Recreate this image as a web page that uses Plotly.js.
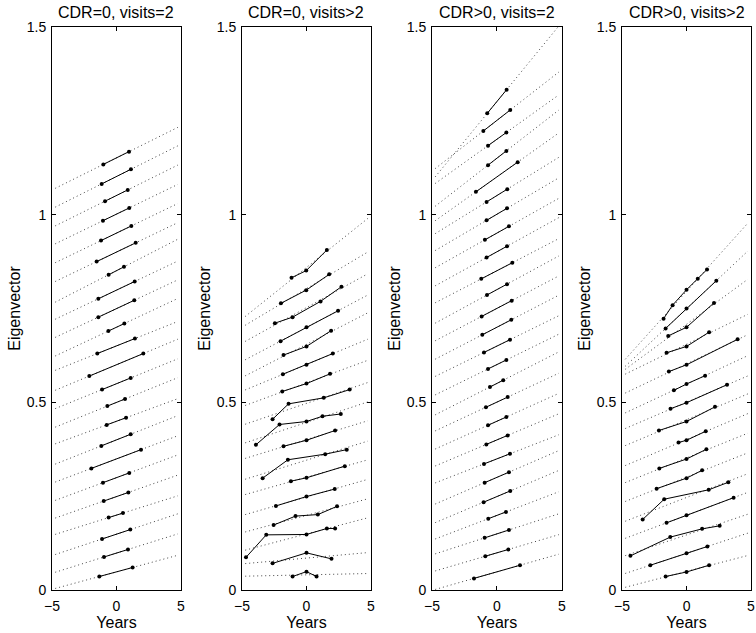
<!DOCTYPE html>
<html>
<head>
<meta charset="utf-8">
<script src="https://cdn.plot.ly/plotly-3.0.1.min.js"></script>
<style>html,body{margin:0;padding:0;background:#fff;}#chart{width:756px;height:633px;}</style>
</head>
<body>
<div id="chart"></div>
<script>
// Panel titles
var panelTitles = ['CDR=0, visits=2', 'CDR=0, visits>2', 'CDR>0, visits=2', 'CDR>0, visits>2'];
var xTickVals = [-5, 0, 5];
var yTickVals = [0, 0.5, 1, 1.5];
var yTickText = ['0', '0.5', '1', '1.5'];

// Panel 1: CDR=0, visits=2 (years, eigenvector) per subject
var p1X = [
[-1.02,0.97],[-1.15,1.12],[-0.89,0.87],[-1.05,0.99],[-1.20,1.15],[-1.54,1.49],
[-0.61,0.58],[-1.41,1.41],[-1.41,1.38],[-0.63,0.61],[-1.49,1.43],[-2.11,2.08],
[-1.12,1.10],[-0.71,0.66],[-0.76,0.74],[-1.18,1.10],[-1.95,1.90],[-1.05,0.99],
[-0.99,0.92],[-0.61,0.50],[-1.12,1.07],[-0.97,0.89],[-1.33,1.25]];
var p1Y = [
[1.134,1.168],[1.082,1.121],[1.036,1.066],[0.984,1.018],[0.931,0.970],[0.875,0.925],
[0.840,0.861],[0.776,0.822],[0.727,0.772],[0.690,0.710],[0.630,0.670],[0.570,0.630],
[0.534,0.565],[0.490,0.509],[0.440,0.459],[0.384,0.415],[0.324,0.374],[0.286,0.312],
[0.237,0.260],[0.193,0.205],[0.136,0.161],[0.088,0.108],[0.036,0.060]];

// Panel 2: CDR=0, visits>2
var p2X = [
[-1.16,-0.02,1.58],[-1.98,-0.02,1.76],[-2.45,-1.08,1.09,2.71],[-2.01,0,2.45],
[-1.78,0,1.91],[-1.83,0,2.04],[-1.88,0,1.83],[-2.63,-1.39,1.34,3.35],
[-3.92,-2.09,0,1.24,2.66],[-1.78,0,2.22],[-3.40,-1.44,1.45,3.12],[-1.21,0,2.97],
[-2.37,0,2.19],[-2.55,-0.85,0.88,2.37],[-4.69,-3.12,0,1.58,2.22],[-2.63,0,1.94],
[-1.08,0,0.78]];
var p2Y = [
[0.832,0.851,0.906],[0.764,0.799,0.841],[0.711,0.727,0.769,0.808],[0.663,0.700,0.744],
[0.626,0.649,0.691],[0.575,0.600,0.630],[0.529,0.550,0.576],[0.455,0.496,0.512,0.534],
[0.387,0.441,0.449,0.463,0.469],[0.383,0.399,0.425],[0.298,0.347,0.362,0.374],[0.290,0.299,0.330],
[0.224,0.249,0.269],[0.173,0.197,0.201,0.223],[0.087,0.147,0.148,0.164,0.164],[0.071,0.099,0.083],
[0.036,0.049,0.036]];

// Panel 3: CDR>0, visits=2
var p3X = [
[-0.75,0.74],[-1.05,1.02],[-0.69,0.72],[-0.69,0.72],[-1.62,1.59],[-0.80,0.79],
[-0.80,0.77],[-0.93,0.92],[-0.80,0.77],[-1.21,1.18],[-0.77,0.77],[-1.18,1.13],
[-1.13,1.10],[-1.00,1.00],[-0.69,0.72],[-0.54,0.48],[-0.85,0.82],[-0.69,0.72],
[-0.82,0.82],[-1.00,1.00],[-0.95,0.92],[-1.03,1.02],[-0.67,0.69],[-0.95,0.92],
[-0.90,0.87],[-1.77,1.77]];
var p3Y = [
[1.270,1.333],[1.223,1.279],[1.184,1.219],[1.132,1.170],[1.061,1.140],[1.034,1.068],
[0.985,1.017],[0.933,0.969],[0.886,0.916],[0.829,0.872],[0.786,0.815],[0.729,0.771],
[0.680,0.720],[0.633,0.667],[0.589,0.613],[0.541,0.559],[0.487,0.514],[0.439,0.461],
[0.388,0.412],[0.336,0.363],[0.286,0.314],[0.234,0.264],[0.190,0.208],[0.139,0.160],
[0.090,0.108],[0.031,0.066]];

// Panel 4: CDR>0, visits>2
var p4X = [
[-1.78,-1.08,0,0.87,1.59],[-1.62,0,2.31],[-1.42,0,2.13],[-1.55,0,1.75],
[-1.37,0,3.96],[-0.98,0,1.44],[-1.24,0,3.14],[-2.14,0,2.21],
[-0.62,0,1.49],[-2.11,0,1.54],[-2.32,0,1.21],[-3.40,-1.73,1.72,3.24],
[-1.55,0,3.65],[-4.35,-1.26,1.21,2.57],[-2.81,0,1.62],[-1.62,0,1.75]];
var p4Y = [
[0.723,0.759,0.800,0.829,0.854],[0.697,0.750,0.824],[0.677,0.700,0.765],[0.632,0.649,0.687],
[0.582,0.600,0.668],[0.532,0.549,0.571],[0.483,0.499,0.547],[0.425,0.449,0.488],
[0.393,0.399,0.423],[0.324,0.349,0.375],[0.270,0.298,0.319],[0.188,0.242,0.267,0.287],
[0.179,0.199,0.246],[0.091,0.141,0.163,0.171],[0.066,0.098,0.116],[0.036,0.048,0.066]];

var panelsX = [p1X, p2X, p3X, p4X];
var panelsY = [p1Y, p2Y, p3Y, p4Y];

// least-squares fit line of each subject, drawn across the year range
function fitLine(xs, ys) {
  var n = xs.length, mx = 0, my = 0;
  for (var i = 0; i < n; i++) { mx += xs[i]; my += ys[i]; }
  mx /= n; my /= n;
  var sxy = 0, sxx = 0;
  for (var j = 0; j < n; j++) { sxy += (xs[j]-mx)*(ys[j]-my); sxx += (xs[j]-mx)*(xs[j]-mx); }
  var b = sxx > 0 ? sxy / sxx : 0;
  return {b: b, a: my - b*mx};
}
var fitRange = [-4.75, 4.75];

var xDomains = [[0.0688,0.2394],[0.3201,0.4907],[0.5714,0.7434],[0.8228,0.9934]];
var yDomain = [0.0679, 0.9573];

var traces = [];
for (var p = 0; p < 4; p++) {
  var xa = p === 0 ? 'x' : 'x' + (p+1);
  var ya = p === 0 ? 'y' : 'y' + (p+1);
  for (var s = 0; s < panelsX[p].length; s++) {
    var f = fitLine(panelsX[p][s], panelsY[p][s]);
    traces.push({
      x: fitRange, y: [f.a + f.b*fitRange[0], f.a + f.b*fitRange[1]],
      xaxis: xa, yaxis: ya, mode: 'lines', hoverinfo: 'skip',
      line: {color: '#444', width: 1, dash: '1px,3px'}
    });
  }
  for (var s2 = 0; s2 < panelsX[p].length; s2++) {
    traces.push({
      x: panelsX[p][s2], y: panelsY[p][s2],
      xaxis: xa, yaxis: ya, mode: 'lines+markers',
      line: {color: '#000', width: 1},
      marker: {color: '#000', size: 4}
    });
  }
}

var font = {family: 'Liberation Sans, Arial, sans-serif', color: '#000'};
var layout = {
  width: 756, height: 633,
  margin: {l: 0, r: 0, t: 0, b: 0},
  paper_bgcolor: '#fff', plot_bgcolor: '#fff',
  showlegend: false,
  font: font,
  annotations: []
};
for (var k = 0; k < 4; k++) {
  var xk = k === 0 ? 'xaxis' : 'xaxis' + (k+1);
  var yk = k === 0 ? 'yaxis' : 'yaxis' + (k+1);
  var yid = k === 0 ? 'y' : 'y' + (k+1);
  var xid = k === 0 ? 'x' : 'x' + (k+1);
  layout[xk] = {
    domain: xDomains[k], anchor: yid, range: [-5, 5],
    tickvals: xTickVals, ticks: 'inside', ticklen: 4, tickcolor: '#000',
    showline: true, linecolor: '#000', linewidth: 1, mirror: 'ticks',
    showgrid: false, zeroline: false, automargin: false, ticklabelstandoff: 3,
    tickfont: {size: 14, family: font.family, color: '#000'},
    title: {text: 'Years', font: {size: 16, family: font.family, color: '#000'}, standoff: 0}
  };
  layout[yk] = {
    domain: yDomain, anchor: xid, range: [0, 1.5],
    tickvals: yTickVals, ticktext: yTickText, ticks: 'inside', ticklen: 4, tickcolor: '#000',
    showline: true, linecolor: '#000', linewidth: 1, mirror: 'ticks',
    showgrid: false, zeroline: false, automargin: false, ticklabelstandoff: 2,
    tickfont: {size: 14, family: font.family, color: '#000'},
    title: {text: 'Eigenvector', font: {size: 16, family: font.family, color: '#000'}, standoff: 2}
  };
  layout.annotations.push({
    text: panelTitles[k], xref: 'paper', yref: 'paper',
    x: (xDomains[k][0] + xDomains[k][1]) / 2, y: yDomain[1], yshift: 4,
    xanchor: 'center', yanchor: 'bottom', showarrow: false,
    font: {size: 16, family: font.family, color: '#000'}
  });
}

Plotly.newPlot('chart', traces, layout, {displayModeBar: false, staticPlot: true});
</script>
</body>
</html>
